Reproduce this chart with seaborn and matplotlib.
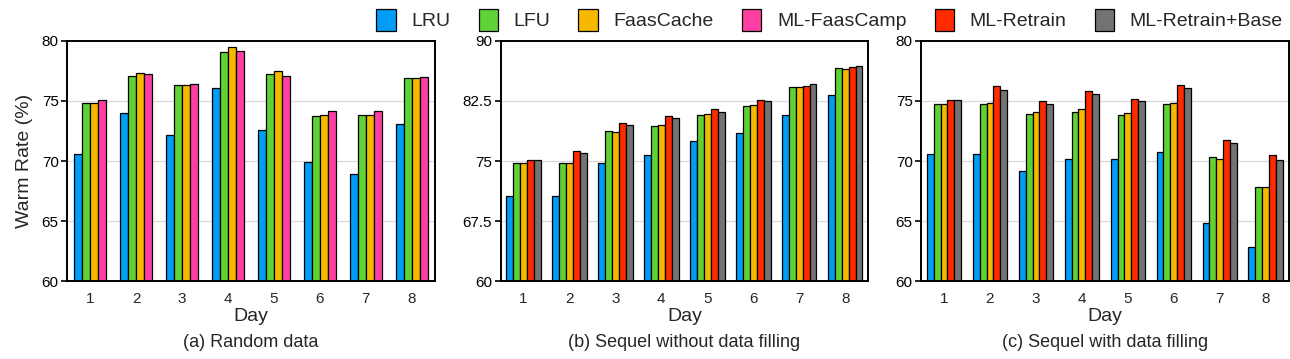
import pandas as pd
import matplotlib.pyplot as plt
import seaborn as sns
from matplotlib.patches import Patch

sns.set_theme(style="white")
plt.rcParams["font.family"] = ["Liberation Sans", "DejaVu Sans"]

days = ["1", "2", "3", "4", "5", "6", "7", "8"]

# (a) Random data
a_lru = [70.6, 74.0, 72.2, 76.05, 72.6, 69.9, 68.9, 73.05]
a_lfu = [74.8, 77.1, 76.3, 79.1, 77.25, 73.75, 73.8, 76.9]
a_faas = [74.8, 77.3, 76.3, 79.5, 77.5, 73.85, 73.8, 76.95]
a_camp = [75.1, 77.25, 76.4, 79.2, 77.1, 74.2, 74.2, 77.0]

# (b) Sequel without data filling
b_lru = [70.6, 70.6, 74.75, 75.8, 77.5, 78.5, 80.8, 83.3]
b_lfu = [74.8, 74.75, 78.8, 79.35, 80.8, 81.9, 84.3, 86.6]
b_faas = [74.75, 74.75, 78.65, 79.5, 80.9, 82.0, 84.3, 86.5]
b_retrain = [75.1, 76.3, 79.7, 80.65, 81.5, 82.65, 84.4, 86.75]
b_base = [75.1, 76.0, 79.5, 80.4, 81.15, 82.5, 84.6, 86.9]

# (c) Sequel with data filling
c_lru = [70.55, 70.55, 69.2, 70.2, 70.15, 70.75, 64.8, 62.8]
c_lfu = [74.75, 74.75, 73.95, 74.05, 73.85, 74.75, 70.35, 67.85]
c_faas = [74.75, 74.85, 74.05, 74.3, 74.0, 74.8, 70.2, 67.8]
c_retrain = [75.1, 76.25, 75.0, 75.85, 75.2, 76.35, 71.75, 70.5]
c_base = [75.1, 75.95, 74.75, 75.55, 75.0, 76.05, 71.5, 70.1]

colors = {
    "LRU": "#009cf5",
    "LFU": "#5fd235",
    "FaasCache": "#f7b800",
    "ML-FaasCamp": "#ff3fa3",
    "ML-Retrain": "#ff2a00",
    "ML-Retrain+Base": "#737373",
}


def long_df(series):
    rows = []
    for name, vals in series.items():
        for d, v in zip(days, vals):
            rows.append({"Day": d, "Method": name, "Rate": v})
    return pd.DataFrame(rows)


panels = [
    (long_df({"LRU": a_lru, "LFU": a_lfu, "FaasCache": a_faas, "ML-FaasCamp": a_camp}),
     (60, 80), [60, 65, 70, 75, 80], ["60", "65", "70", "75", "80"], "(a) Random data", 0.70),
    (long_df({"LRU": b_lru, "LFU": b_lfu, "FaasCache": b_faas, "ML-Retrain": b_retrain,
              "ML-Retrain+Base": b_base}),
     (60, 90), [60, 67.5, 75, 82.5, 90], ["60", "67.5", "75", "82.5", "90"],
     "(b) Sequel without data filling", 0.75),
    (long_df({"LRU": c_lru, "LFU": c_lfu, "FaasCache": c_faas, "ML-Retrain": c_retrain,
              "ML-Retrain+Base": c_base}),
     (60, 80), [60, 65, 70, 75, 80], ["60", "65", "70", "75", "80"],
     "(c) Sequel with data filling", 0.75),
]

lefts = [0.052, 0.388, 0.714]
fig = plt.figure(figsize=(12.9, 3.59), dpi=100)

for left, (df, ylim, yt, ytl, title, w) in zip(lefts, panels):
    ax = fig.add_axes([left, 0.217, 0.285, 0.669])
    methods = list(dict.fromkeys(df["Method"]))
    sns.barplot(data=df, x="Day", y="Rate", hue="Method", hue_order=methods,
                palette=[colors[m] for m in methods], width=w, saturation=1,
                edgecolor="black", linewidth=0.9, legend=False, ax=ax)
    ax.set_ylim(*ylim)
    ax.set_yticks(yt)
    ax.set_yticklabels(ytl)
    ax.set_xlim(-0.5, 7.5)
    ax.yaxis.grid(True, color="#d9d9d9", linewidth=0.9)
    ax.set_axisbelow(True)
    for s in ax.spines.values():
        s.set_color("black")
        s.set_linewidth(1.4)
    ax.tick_params(axis="y", direction="out", length=4, width=1.2, labelsize=11,
                   left=True, pad=2, colors="black")
    ax.tick_params(axis="x", length=0, labelsize=11, pad=8)
    ax.set_xlabel("Day", fontsize=14, labelpad=1)
    ax.set_ylabel("")
    ax.text(0.5, -0.255, title, transform=ax.transAxes, ha="center", va="center",
            fontsize=13)
    if left == lefts[0]:
        ax.set_ylabel("Warm Rate (%)", fontsize=14, labelpad=6)

handles = [Patch(facecolor=c, edgecolor="black", linewidth=0.9, label=m)
           for m, c in colors.items()]
fig.legend(handles=handles, loc="upper right", bbox_to_anchor=(1.008, 1.025), ncol=6,
           frameon=False, fontsize=14, handlelength=1.0, handleheight=1.4,
           columnspacing=1.45, handletextpad=0.8)

plt.savefig("out.png", dpi=100)
